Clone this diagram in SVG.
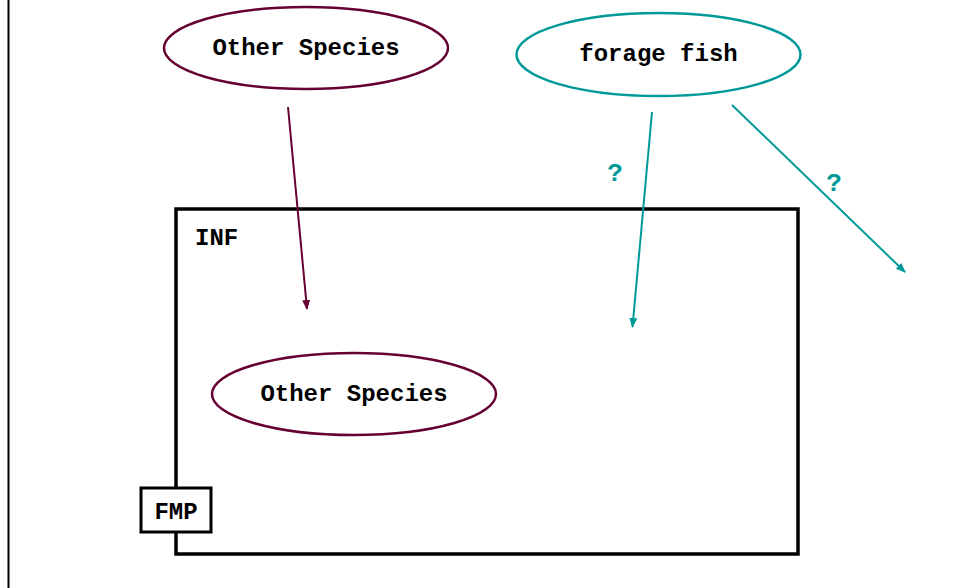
<svg xmlns="http://www.w3.org/2000/svg" width="956" height="588" viewBox="0 0 956 588">
<style>
text{font-family:"Liberation Mono","Courier New",monospace;font-weight:bold;fill:#000}
.lbl{font-size:24px;text-anchor:middle}
.q{font-size:26px;fill:#009999;text-anchor:middle}
.sp{fill:#fff;stroke:#660033;stroke-width:2.5}
.ff{fill:#fff;stroke:#009999;stroke-width:2.5}
</style>
<defs>
<marker id="am" markerWidth="10" markerHeight="10" refX="9" refY="5" orient="auto" markerUnits="userSpaceOnUse"><path d="M0,1 L10,5 L0,9 z" fill="#660033"/></marker>
<marker id="at" markerWidth="10" markerHeight="10" refX="9" refY="5" orient="auto" markerUnits="userSpaceOnUse"><path d="M0,1 L10,5 L0,9 z" fill="#009999"/></marker>
</defs>
<rect width="956" height="588" fill="#fff"/>
<line x1="8.5" y1="0" x2="8.5" y2="588" stroke="#000" stroke-width="2"/>
<g id="INF">
<rect x="176" y="209" width="622" height="345" fill="none" stroke="#000" stroke-width="3.5"/>
<text x="195" y="245" style="font-size:24px">INF</text>
</g>
<g id="FMP">
<rect x="141" y="488" width="70" height="44" fill="#fff" stroke="#000" stroke-width="3"/>
<text x="176" y="519" class="lbl">FMP</text>
</g>
<g id="other-species-top">
<ellipse cx="306" cy="48" rx="142" ry="41" class="sp"/>
<text x="306" y="55" class="lbl">Other Species</text>
</g>
<g id="forage-fish">
<ellipse cx="658.5" cy="54.5" rx="142" ry="41.5" class="ff"/>
<text x="658.5" y="61" class="lbl">forage fish</text>
</g>
<g id="other-species-inf">
<ellipse cx="354" cy="394" rx="142" ry="41" class="sp"/>
<text x="354" y="401" class="lbl">Other Species</text>
</g>
<g id="connectors">
<line x1="288" y1="107" x2="307" y2="309" stroke="#660033" stroke-width="2" marker-end="url(#am)"/>
<line x1="652" y1="112" x2="632.5" y2="327" stroke="#009999" stroke-width="2" marker-end="url(#at)"/>
<line x1="732" y1="105" x2="905" y2="272" stroke="#009999" stroke-width="2" marker-end="url(#at)"/>
<text x="615" y="181" class="q">?</text>
<text x="834" y="191" class="q">?</text>
</g>
</svg>
